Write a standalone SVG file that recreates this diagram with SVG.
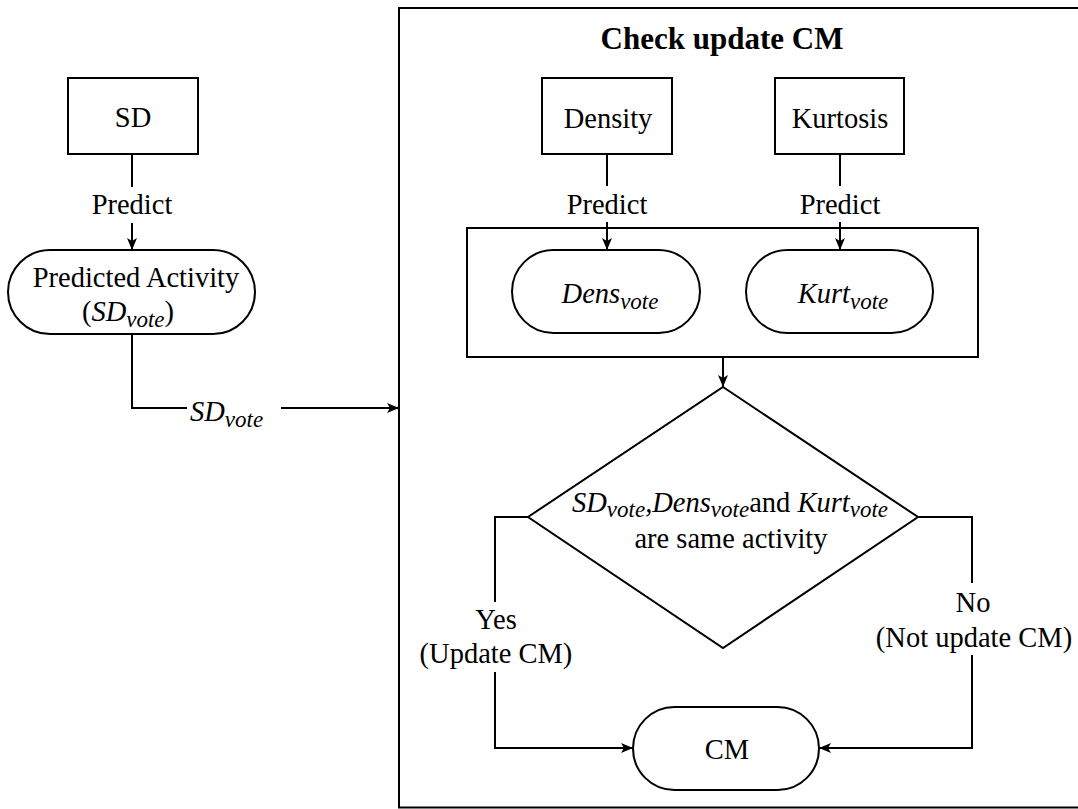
<svg xmlns="http://www.w3.org/2000/svg" width="1078" height="809" viewBox="0 0 1078 809">
<defs>
<marker id="arr" markerUnits="userSpaceOnUse" markerWidth="13" markerHeight="11" refX="12" refY="5.5" orient="auto">
<path d="M0,0.5 L12,5.5 L0,10.5 L3,5.5 Z" fill="#000"/>
</marker>
<style>
.s{fill:#fff;stroke:#000;stroke-width:2}
.c{fill:none;stroke:#000;stroke-width:2}
text{font-family:'Liberation Serif','Times New Roman',serif;font-size:28.5px;fill:#000}
.i{font-style:italic}
.sub{font-size:23px}
.b{font-weight:bold;font-size:31px}
</style>
</defs>
<rect width="1078" height="809" fill="#fff"/>
<g id="outer">
<rect x="399" y="8" width="682" height="799.5" class="s"/>
<text x="722" y="49" class="b" text-anchor="middle">Check update CM</text>
</g>
<g id="sd">
<rect x="68" y="78" width="130" height="76" class="s"/>
<text x="133" y="127" text-anchor="middle">SD</text>
</g>
<g id="density">
<rect x="542" y="78" width="130" height="76" class="s"/>
<text x="608" y="128" text-anchor="middle">Density</text>
</g>
<g id="kurtosis">
<rect x="775" y="78" width="129" height="76" class="s"/>
<text x="840" y="128" text-anchor="middle">Kurtosis</text>
</g>
<g id="predicted">
<rect x="8" y="250" width="247" height="84" rx="42" ry="42" class="s"/>
<text x="136" y="287" text-anchor="middle">Predicted Activity</text>
<text x="128" y="321" text-anchor="middle">(<tspan class="i">SD</tspan><tspan class="i sub" dy="6">vote</tspan><tspan dy="-6">)</tspan></text>
</g>
<g id="inner">
<rect x="467" y="228" width="511" height="129" class="s"/>
</g>
<g id="dens">
<rect x="512" y="250" width="188" height="83" rx="41.5" ry="41.5" class="s"/>
<text x="610" y="303" text-anchor="middle"><tspan class="i">Dens</tspan><tspan class="i sub" dy="6">vote</tspan></text>
</g>
<g id="kurt">
<rect x="746" y="250" width="187" height="83" rx="41.5" ry="41.5" class="s"/>
<text x="843" y="303" text-anchor="middle"><tspan class="i">Kurt</tspan><tspan class="i sub" dy="6">vote</tspan></text>
</g>
<g id="decision">
<polygon points="723,387 918,517 723,648 528,517" class="s"/>
<text x="730" y="512" text-anchor="middle"><tspan class="i">SD</tspan><tspan class="i sub" dy="5">vote</tspan><tspan class="i" dy="-5">,Dens</tspan><tspan class="i sub" dy="5">vote</tspan><tspan dy="-5">and </tspan><tspan class="i">Kurt</tspan><tspan class="i sub" dy="5">vote</tspan></text>
<text x="731" y="548" text-anchor="middle">are same activity</text>
</g>
<g id="cm">
<rect x="633" y="707" width="186" height="83" rx="41.5" ry="41.5" class="s"/>
<text x="727" y="759" text-anchor="middle">CM</text>
</g>
<g id="connectors">
<path d="M132,154 V187" class="c"/>
<path d="M132,223 V250" class="c" marker-end="url(#arr)"/>
<text x="132" y="214" text-anchor="middle">Predict</text>
<path d="M607,154 V186" class="c"/>
<path d="M607,222 V250" class="c" marker-end="url(#arr)"/>
<text x="607" y="214" text-anchor="middle">Predict</text>
<path d="M840,154 V186" class="c"/>
<path d="M840,222 V250" class="c" marker-end="url(#arr)"/>
<text x="840" y="214" text-anchor="middle">Predict</text>
<path d="M132,334 V408 H187" class="c"/>
<path d="M281,408 H399" class="c" marker-end="url(#arr)"/>
<text x="190" y="421"><tspan class="i">SD</tspan><tspan class="i sub" dy="6">vote</tspan></text>
<path d="M723,357 V387" class="c" marker-end="url(#arr)"/>
<path d="M528,517 H495 V602" class="c"/>
<path d="M495,672 V748 H633" class="c" marker-end="url(#arr)"/>
<text x="496" y="629" text-anchor="middle">Yes</text>
<text x="496" y="663" text-anchor="middle">(Update CM)</text>
<path d="M918,517 H972 V583" class="c"/>
<path d="M972,655 V748 H819" class="c" marker-end="url(#arr)"/>
<text x="973" y="612" text-anchor="middle">No</text>
<text x="974" y="647" text-anchor="middle">(Not update CM)</text>
</g>
</svg>
